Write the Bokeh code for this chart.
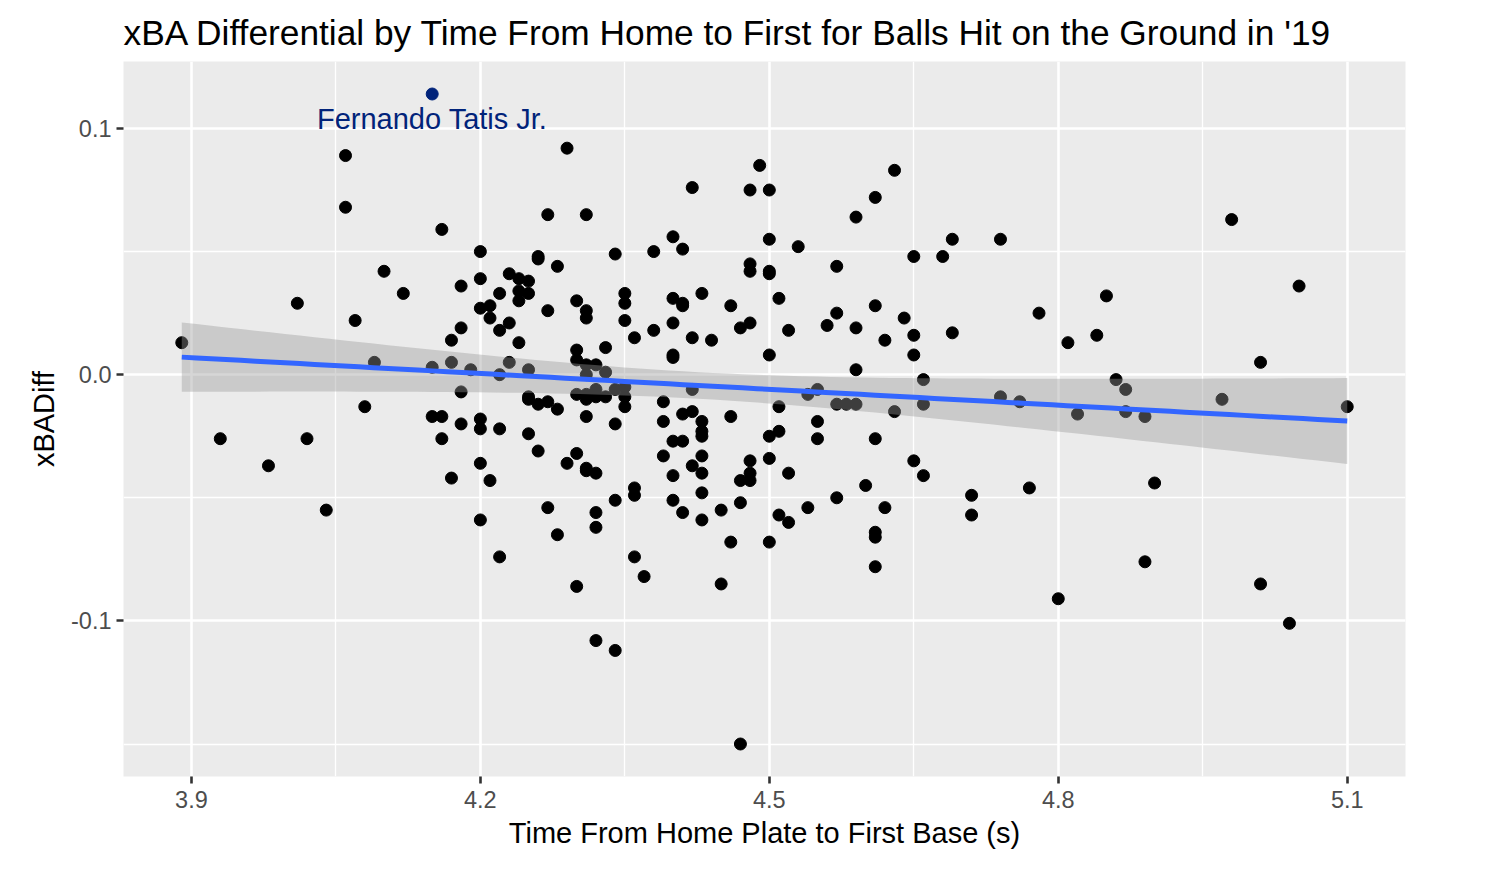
import numpy as np
from bokeh.plotting import figure
from bokeh.models import Range1d, FixedTicker, NumeralTickFormatter
from bokeh.embed import file_html
from bokeh.resources import INLINE
from bokeh.core.properties import value

# ---- data ----
time_s = [
    3.89, 3.93, 3.98, 4.01, 4.02, 4.04, 4.06, 4.06, 4.07, 4.08, 4.09, 4.10, 4.12,
    4.15, 4.15, 4.16, 4.16, 4.16, 4.17, 4.17, 4.17, 4.18, 4.18, 4.18, 4.18, 4.19,
    4.20, 4.20, 4.20, 4.20, 4.20, 4.20, 4.20,
    4.21, 4.21, 4.21,
    4.22, 4.22, 4.22, 4.22, 4.22,
    4.23, 4.23, 4.23,
    4.24, 4.24, 4.24, 4.24,
    4.25, 4.25, 4.25, 4.25, 4.25, 4.25,
    4.26, 4.26, 4.26, 4.26,
    4.27, 4.27, 4.27, 4.27,
    4.28, 4.28, 4.28,
    4.29, 4.29,
    4.30, 4.30, 4.30, 4.30, 4.30, 4.30,
    4.31, 4.31, 4.31, 4.31, 4.31, 4.31, 4.31, 4.31, 4.31, 4.31,
    4.32, 4.32, 4.32, 4.32, 4.32, 4.32, 4.32,
    4.33, 4.33, 4.33,
    4.34, 4.34, 4.34, 4.34, 4.34,
    4.35, 4.35, 4.35, 4.35, 4.35, 4.35,
    4.36, 4.36, 4.36, 4.36,
    4.37,
    4.38, 4.38,
    4.39, 4.39, 4.39,
    4.40, 4.40, 4.40, 4.40, 4.40, 4.40, 4.40, 4.40,
    4.41, 4.41, 4.41, 4.41, 4.41, 4.41,
    4.42, 4.42, 4.42, 4.42, 4.42,
    4.43, 4.43, 4.43, 4.43, 4.43, 4.43, 4.43, 4.43,
    4.44,
    4.45, 4.45,
    4.46, 4.46, 4.46,
    4.47, 4.47, 4.47, 4.47,
    4.48, 4.48, 4.48, 4.48, 4.48, 4.48, 4.48,
    4.49,
    4.50, 4.50, 4.50, 4.50, 4.50, 4.50, 4.50, 4.50,
    4.51, 4.51, 4.51, 4.51,
    4.52, 4.52, 4.52,
    4.53,
    4.54, 4.54,
    4.55, 4.55, 4.55,
    4.56,
    4.57, 4.57, 4.57, 4.57,
    4.58,
    4.59, 4.59, 4.59, 4.59,
    4.60,
    4.61, 4.61, 4.61, 4.61, 4.61, 4.61,
    4.62, 4.62,
    4.63, 4.63,
    4.64,
    4.65, 4.65, 4.65, 4.65,
    4.66, 4.66, 4.66,
    4.68,
    4.69, 4.69,
    4.71, 4.71,
    4.74, 4.74,
    4.76, 4.77, 4.78, 4.80, 4.81, 4.82, 4.84, 4.85, 4.86,
    4.87, 4.87,
    4.89, 4.89,
    4.90, 4.97, 4.98,
    5.01, 5.01,
    5.04, 5.05, 5.10,
]
xba_diff = [
    0.013, -0.026, -0.037, 0.029, -0.026, -0.055, 0.089, 0.068, 0.022, -0.013, 0.005, 0.042, 0.033,
    0.003, -0.017, 0.059, -0.017, -0.026, 0.014, 0.005, -0.042, 0.036, 0.019, -0.007, -0.020, 0.002,
    0.050, 0.039, 0.027, -0.018, -0.022, -0.036, -0.059,
    0.028, 0.023, -0.043,
    0.033, 0.018, 0.000, -0.022, -0.074,
    0.041, 0.021, 0.005,
    0.039, 0.034, 0.030, 0.013,
    0.038, 0.033, 0.002, -0.009, -0.010, -0.024,
    0.048, 0.047, -0.012, -0.031,
    0.065, 0.026, -0.011, -0.054,
    0.044, -0.014, -0.065,
    0.092, -0.036,
    0.030, 0.010, 0.006, -0.008, -0.032, -0.086,
    0.065, 0.026, 0.023, 0.004, 0.000, -0.008, -0.010, -0.017, -0.038, -0.039,
    0.004, -0.006, -0.009, -0.040, -0.056, -0.062, -0.108,
    0.011, 0.001, -0.009,
    0.049, -0.006, -0.020, -0.051, -0.112,
    0.033, 0.029, 0.022, -0.005, -0.009, -0.013,
    0.015, -0.046, -0.049, -0.074,
    -0.082,
    0.050, 0.018,
    -0.011, -0.019, -0.033,
    0.056, 0.031, 0.021, 0.008, 0.007, -0.027, -0.041, -0.051,
    0.051, 0.029, 0.028, -0.016, -0.027, -0.056,
    0.076, 0.015, -0.006, -0.015, -0.037,
    0.033, -0.019, -0.023, -0.025, -0.033, -0.040, -0.048, -0.059,
    0.014,
    -0.055, -0.085,
    0.028, -0.017, -0.068,
    0.019, -0.043, -0.052, -0.150,
    0.075, 0.045, 0.042, 0.021, -0.035, -0.040, -0.043,
    0.085,
    0.075, 0.055, 0.042, 0.041, 0.008, -0.025, -0.034, -0.068,
    0.031, -0.013, -0.023, -0.057,
    0.018, -0.040, -0.060,
    0.052,
    -0.008, -0.054,
    -0.006, -0.019, -0.026,
    0.020,
    0.044, 0.025, -0.012, -0.050,
    -0.012,
    0.064, 0.019, 0.002, -0.012,
    -0.045,
    0.072, 0.028, -0.026, -0.064, -0.066, -0.078,
    0.014, -0.054,
    0.083, -0.015,
    0.023,
    0.048, 0.016, 0.008, -0.035,
    -0.002, -0.012, -0.041,
    0.048,
    0.055, 0.017,
    -0.049, -0.057,
    0.055, -0.009,
    -0.011, -0.046, 0.025, -0.091, 0.013, -0.016, 0.016, 0.032, -0.002,
    -0.006, -0.015,
    -0.017, -0.076,
    -0.044, -0.010, 0.063,
    0.005, -0.085,
    -0.101, 0.036, -0.013,
]
highlight_name = ["Fernando Tatis Jr."]
highlight_time = [4.15]
highlight_diff = [0.114]

# ---- linear fit with 95% confidence band (like geom_smooth(method="lm")) ----
x_all = np.array(time_s + highlight_time)
y_all = np.array(xba_diff + highlight_diff)
n = len(x_all)
slope, intercept = np.polyfit(x_all, y_all, 1)
resid = y_all - (intercept + slope * x_all)
s_err = np.sqrt(np.sum(resid ** 2) / (n - 2))
x_mean = x_all.mean()
sxx = np.sum((x_all - x_mean) ** 2)
t_crit = 1.969
xs = np.linspace(x_all.min(), x_all.max(), 80)
fit = intercept + slope * xs
se = s_err * np.sqrt(1.0 / n + (xs - x_mean) ** 2 / sxx)
lo = fit - t_crit * se
hi = fit + t_crit * se

# ggplot-like 5% expansion
xr = x_all.max() - x_all.min()
yr = y_all.max() - y_all.min()
x_range = Range1d(x_all.min() - 0.05 * xr, x_all.max() + 0.05 * xr)
y_range = Range1d(y_all.min() - 0.05 * yr, y_all.max() + 0.05 * yr)

FONT = "Liberation Sans"

p = figure(width=1484, height=872, output_backend="svg", toolbar_location=None,
           x_range=x_range, y_range=y_range,
           min_border_left=123, min_border_right=79, min_border_top=60, min_border_bottom=96,
           title="xBA Differential by Time From Home to First for Balls Hit on the Ground in '19")

p.background_fill_color = "#EBEBEB"
p.border_fill_color = "white"
p.outline_line_color = None

p.title.text_font = FONT
p.title.text_font_size = "35.3px"
p.title.text_font_style = "normal"
p.title.text_color = "black"
p.title.align = "left"
p.title.standoff = 20

p.xaxis.ticker = FixedTicker(ticks=[3.9, 4.2, 4.5, 4.8, 5.1], minor_ticks=[4.05, 4.35, 4.65, 4.95])
p.yaxis.ticker = FixedTicker(ticks=[-0.1, 0.0, 0.1], minor_ticks=[-0.15, -0.05, 0.05])
p.xaxis.formatter = NumeralTickFormatter(format="0.0")
p.yaxis.formatter = NumeralTickFormatter(format="0.0")

for ax in (p.xaxis, p.yaxis):
    ax.axis_line_color = None
    ax.major_tick_line_color = "#333333"
    ax.major_tick_line_width = 2.6
    ax.major_tick_out = 7
    ax.major_tick_in = 0
    ax.minor_tick_line_color = None
    ax.major_label_text_font = FONT
    ax.major_label_text_font_size = "23.5px"
    ax.major_label_text_color = "#4D4D4D"
    ax.axis_label_text_font = FONT
    ax.axis_label_text_font_size = "29px"
    ax.axis_label_text_font_style = "normal"
    ax.axis_label_text_color = "black"

p.xaxis.major_label_standoff = 7
p.yaxis.major_label_standoff = 5
p.xaxis.axis_label = "Time From Home Plate to First Base (s)"
p.yaxis.axis_label = "xBADiff"
p.xaxis.axis_label_standoff = 6
p.yaxis.axis_label_standoff = 8

for g in (p.xgrid, p.ygrid):
    g.grid_line_color = "white"
    g.grid_line_width = 2.6
    g.minor_grid_line_color = "white"
    g.minor_grid_line_width = 1.3

p.scatter(time_s, xba_diff, size=12, color="black")
p.varea(x=xs, y1=lo, y2=hi, fill_color="#999999", fill_alpha=0.4)
p.line(xs, fit, line_color="#3366FF", line_width=5)

NAVY = "#01237A"
p.scatter(highlight_time, highlight_diff, size=12, color=NAVY)
nudge_y = -0.01
p.text(x=highlight_time, y=[v + nudge_y for v in highlight_diff], text=highlight_name,
       text_font=value(FONT), text_font_size=value("29px"), text_color=NAVY,
       text_align="center", text_baseline="middle")

open("out.html", "w").write(file_html(p, INLINE))
